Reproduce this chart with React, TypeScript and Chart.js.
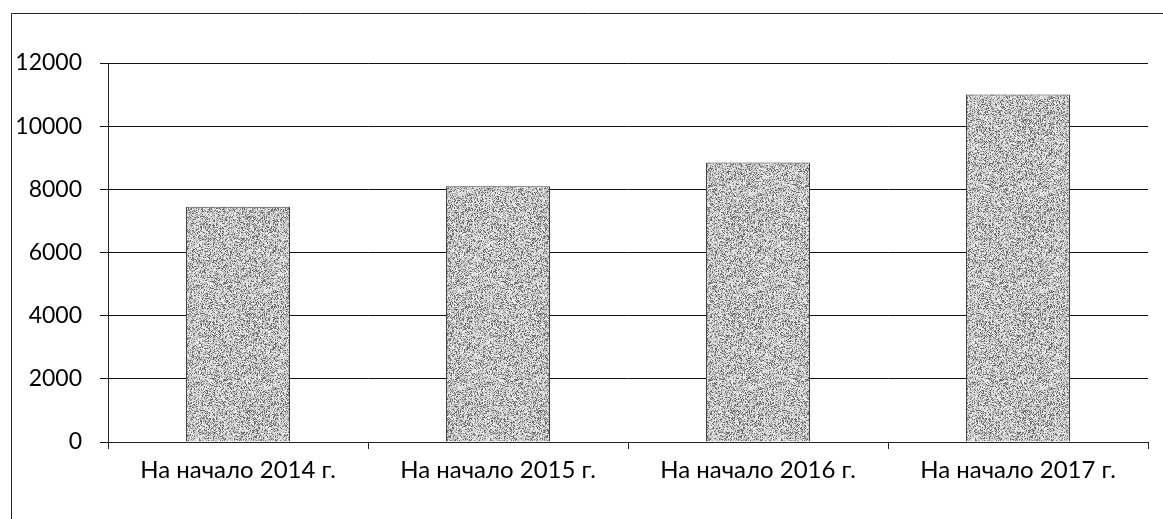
import React, { useEffect, useRef } from "react";
import { Chart, registerables } from "chart.js";

Chart.register(...registerables);

const categories = ["На начало 2014 г.", "На начало 2015 г.", "На начало 2016 г.", "На начало 2017 г."];
const values = [7450, 8100, 8850, 11000];
const yTicks = [0, 2000, 4000, 6000, 8000, 10000, 12000];

function makePattern(): CanvasPattern | string {
  const c = document.createElement("canvas");
  c.width = 97;
  c.height = 97;
  const ctx = c.getContext("2d");
  if (!ctx) return "#b8b8b8";
  const img = ctx.createImageData(97, 97);
  for (let y = 0; y < 97; y++) {
    for (let x = 0; x < 97; x++) {
      let h = (x * 374761393 + y * 668265263) | 0;
      h = Math.imul(h ^ (h >>> 13), 1274126177);
      h = (h ^ (h >>> 16)) >>> 0;
      const r = h % 256;
      const v = r < 55 ? 110 : r < 120 ? 175 : r < 195 ? 210 : 238;
      const i = (y * 97 + x) * 4;
      img.data[i] = v;
      img.data[i + 1] = v;
      img.data[i + 2] = v;
      img.data[i + 3] = 255;
    }
  }
  ctx.putImageData(img, 0, 0);
  const p = ctx.createPattern(c, "repeat");
  return p || "#b8b8b8";
}

const framePlugin = {
  id: "frame",
  afterDraw(chart: any) {
    const ctx = chart.ctx;
    ctx.save();
    ctx.strokeStyle = "#222";
    ctx.lineWidth = 1;
    ctx.beginPath();
    ctx.moveTo(11.5, 519);
    ctx.lineTo(11.5, 13.5);
    ctx.lineTo(1163, 13.5);
    ctx.stroke();
    ctx.restore();
  },
};

export default function App() {
  const ref = useRef<HTMLCanvasElement>(null);
  useEffect(() => {
    if (!ref.current) return;
    const chart = new Chart(ref.current, {
      type: "bar",
      data: {
        labels: categories,
        datasets: [
          {
            data: values,
            backgroundColor: makePattern() as any,
            borderColor: "#444",
            borderWidth: 1,
            categoryPercentage: 1,
            barPercentage: 0.4,
          },
        ],
      },
      options: {
        animation: false,
        responsive: false,
        maintainAspectRatio: false,
        layout: { padding: { top: 63, right: 15, left: 0, bottom: 0 } },
        plugins: { legend: { display: false }, tooltip: { enabled: false } },
        scales: {
          x: {
            grid: { offset: true, drawOnChartArea: false, drawTicks: true, tickLength: 7, color: "#222" },
            border: { color: "#222", width: 1 },
            ticks: { color: "#000", font: { family: "Lato", size: 24 }, padding: 7 },
            afterFit(scale: any) {
              scale.height = 77;
            },
          },
          y: {
            min: 0,
            max: 12000,
            afterBuildTicks(scale: any) {
              scale.ticks = yTicks.map((v) => ({ value: v }));
            },
            grid: { color: "#111", lineWidth: 1, tickLength: 8 },
            border: { color: "#222", width: 1 },
            ticks: {
              color: "#000",
              font: { family: "Lato", size: 23 },
              padding: 18,
              callback: (v: any) => String(v),
            },
            afterFit(scale: any) {
              scale.width = 108;
            },
          },
        },
      },
      plugins: [framePlugin],
    });
    return () => chart.destroy();
  }, []);
  return (
    <div style={{ position: "fixed", left: 0, top: 0, width: 1163, height: 519, background: "#fff" }}>
      <canvas ref={ref} width={1163} height={519} style={{ display: "block" }} />
    </div>
  );
}
